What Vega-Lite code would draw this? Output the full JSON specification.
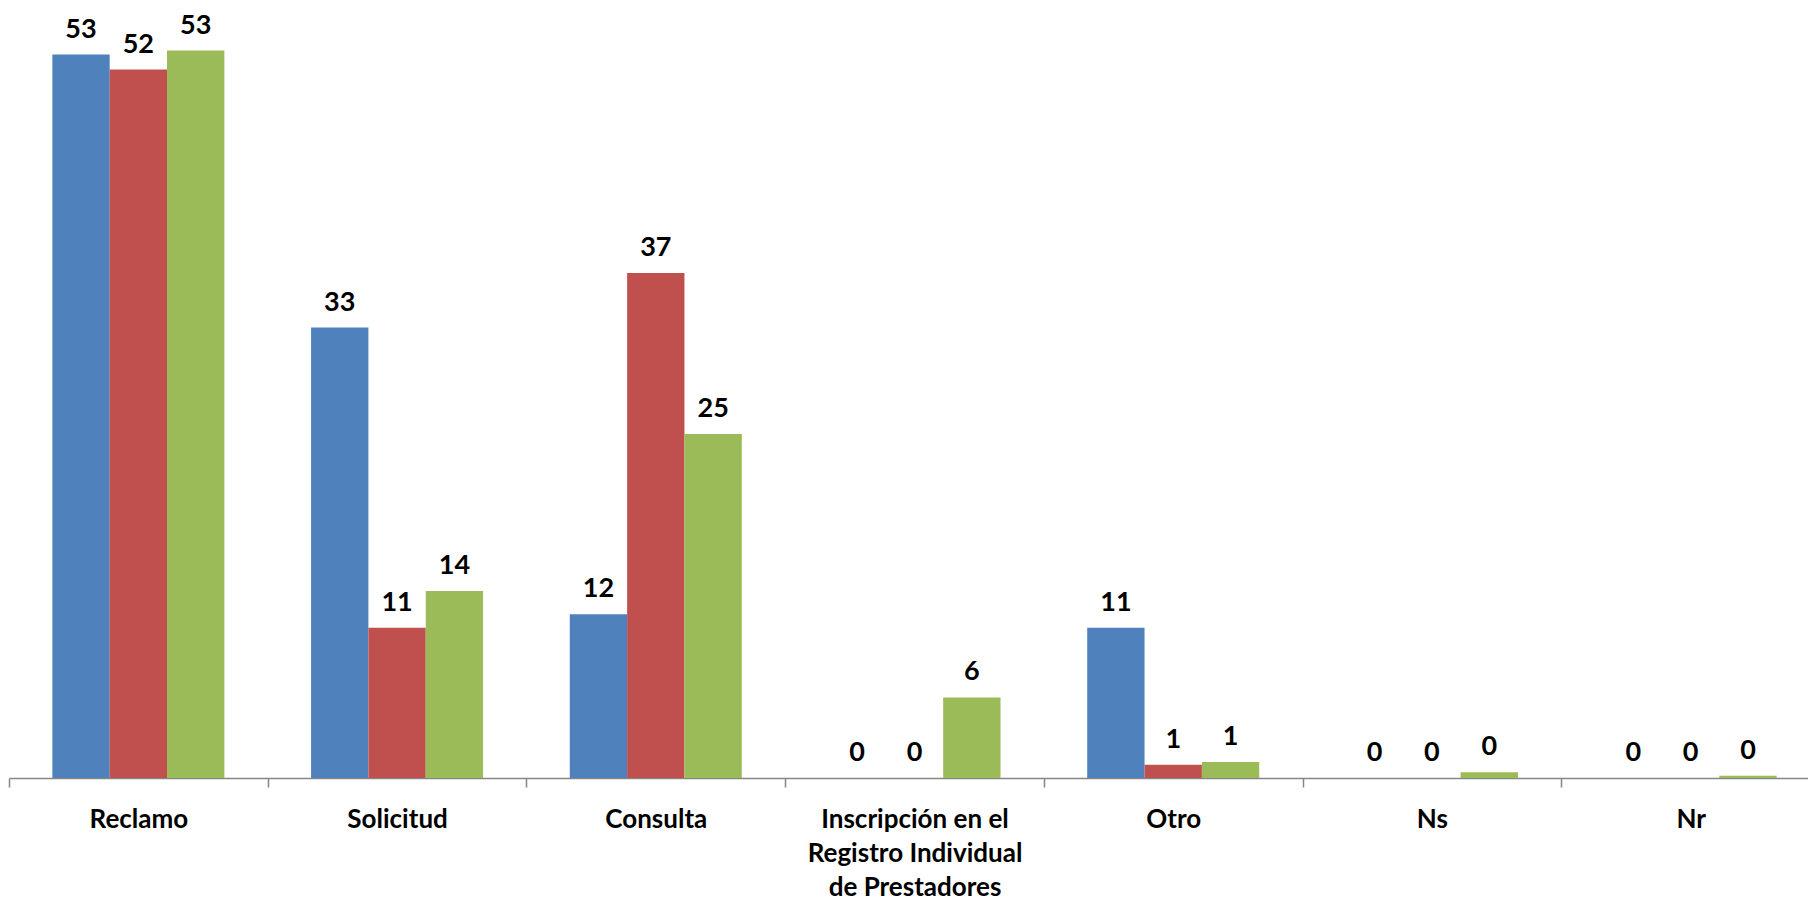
{
  "$schema": "https://vega.github.io/schema/vega-lite/v6.json",
  "width": 1811,
  "height": 778,
  "autosize": {"type": "none"},
  "padding": {"left": 9, "top": 0, "right": 0, "bottom": 121},
  "background": "white",
  "config": {"view": {"stroke": null}, "font": "Lato"},
  "data": {
    "values": [
      {"categoria": "Reclamo", "serie": "Serie 1", "valor": 53.0, "etiqueta": "53"},
      {"categoria": "Reclamo", "serie": "Serie 2", "valor": 51.9, "etiqueta": "52"},
      {"categoria": "Reclamo", "serie": "Serie 3", "valor": 53.3, "etiqueta": "53"},
      {"categoria": "Solicitud", "serie": "Serie 1", "valor": 33.0, "etiqueta": "33"},
      {"categoria": "Solicitud", "serie": "Serie 2", "valor": 11.0, "etiqueta": "11"},
      {"categoria": "Solicitud", "serie": "Serie 3", "valor": 13.7, "etiqueta": "14"},
      {"categoria": "Consulta", "serie": "Serie 1", "valor": 12.0, "etiqueta": "12"},
      {"categoria": "Consulta", "serie": "Serie 2", "valor": 37.0, "etiqueta": "37"},
      {"categoria": "Consulta", "serie": "Serie 3", "valor": 25.2, "etiqueta": "25"},
      {"categoria": "Inscripción en el Registro Individual de Prestadores", "serie": "Serie 1", "valor": 0, "etiqueta": "0"},
      {"categoria": "Inscripción en el Registro Individual de Prestadores", "serie": "Serie 2", "valor": 0, "etiqueta": "0"},
      {"categoria": "Inscripción en el Registro Individual de Prestadores", "serie": "Serie 3", "valor": 5.9, "etiqueta": "6"},
      {"categoria": "Otro", "serie": "Serie 1", "valor": 11.0, "etiqueta": "11"},
      {"categoria": "Otro", "serie": "Serie 2", "valor": 0.97, "etiqueta": "1"},
      {"categoria": "Otro", "serie": "Serie 3", "valor": 1.18, "etiqueta": "1"},
      {"categoria": "Ns", "serie": "Serie 1", "valor": 0, "etiqueta": "0"},
      {"categoria": "Ns", "serie": "Serie 2", "valor": 0, "etiqueta": "0"},
      {"categoria": "Ns", "serie": "Serie 3", "valor": 0.42, "etiqueta": "0"},
      {"categoria": "Nr", "serie": "Serie 1", "valor": 0, "etiqueta": "0"},
      {"categoria": "Nr", "serie": "Serie 2", "valor": 0, "etiqueta": "0"},
      {"categoria": "Nr", "serie": "Serie 3", "valor": 0.16, "etiqueta": "0"}
    ]
  },
  "encoding": {
    "x": {
      "field": "categoria",
      "type": "nominal",
      "sort": ["Reclamo", "Solicitud", "Consulta", "Inscripción en el Registro Individual de Prestadores", "Otro", "Ns", "Nr"],
      "scale": {"paddingInner": 0, "paddingOuter": 0},
      "axis": {
        "title": null,
        "labelAngle": 0,
        "labelFont": "Lato",
        "labelFontWeight": "bold",
        "labelFontSize": 26,
        "labelColor": "black",
        "labelPadding": 19,
        "labelBaseline": "top",
        "labelLineHeight": 34,
        "labelLimit": 0,
        "labelOverlap": false,
        "labelBound": false,
        "labelExpr": "datum.value == 'Inscripción en el Registro Individual de Prestadores' ? ['Inscripción en el', 'Registro Individual', 'de Prestadores'] : datum.label",
        "tickSize": 9,
        "tickBand": "extent",
        "tickColor": "#868686",
        "domainColor": "#868686",
        "tickWidth": 1.5,
        "domainWidth": 1.5
      }
    },
    "xOffset": {
      "field": "serie",
      "type": "nominal",
      "sort": ["Serie 1", "Serie 2", "Serie 3"],
      "scale": {"paddingInner": 0, "paddingOuter": 0.756}
    },
    "y": {
      "field": "valor",
      "type": "quantitative",
      "scale": {"domain": [0, 57]},
      "axis": null
    }
  },
  "layer": [
    {
      "mark": {"type": "bar"},
      "encoding": {
        "color": {
          "field": "serie",
          "type": "nominal",
          "sort": ["Serie 1", "Serie 2", "Serie 3"],
          "scale": {"range": ["#4F81BD", "#C0504D", "#9BBB59"]},
          "legend": null
        }
      }
    },
    {
      "mark": {"type": "text", "font": "Lato", "fontWeight": "bold", "fontSize": 27, "dy": -17, "baseline": "alphabetic", "color": "black"},
      "encoding": {"text": {"field": "etiqueta"}}
    }
  ]
}
